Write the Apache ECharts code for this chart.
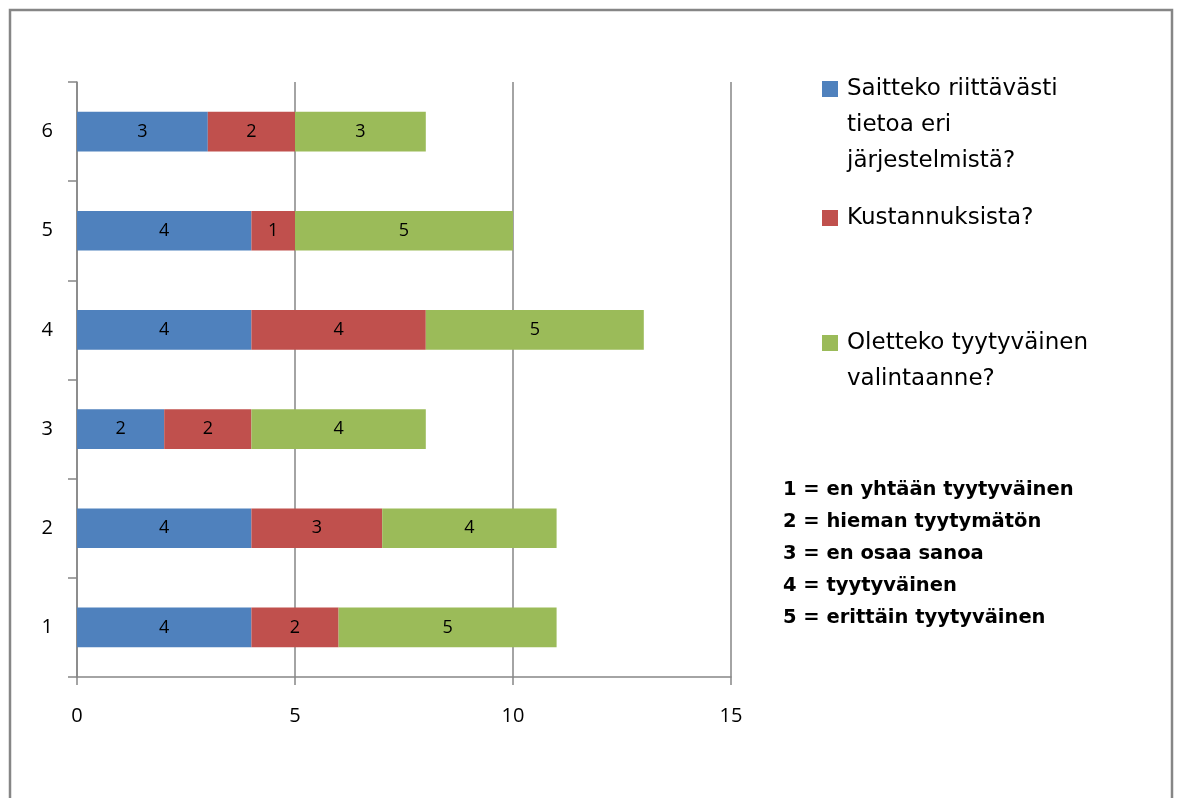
<!DOCTYPE html>
<html><head><meta charset="utf-8">
<script src="https://cdn.jsdelivr.net/npm/echarts@6/dist/echarts.min.js"></script>
<style>html,body{margin:0;padding:0;background:#fff}#c{width:1179px;height:798px}</style>
</head><body><div id="c"></div>
<script>
const categories = ['1','2','3','4','5','6'];
const seriesNames = ['Saitteko riittävästi\ntietoa eri\njärjestelmistä?', 'Kustannuksista?', 'Oletteko tyytyväinen\nvalintaanne?'];
const infoValues = [4, 4, 2, 4, 4, 3];
const costValues = [2, 3, 2, 4, 1, 2];
const satisfiedValues = [5, 4, 4, 5, 5, 3];
const xTicks = [0, 5, 10, 15];
const noteLines = ['1 = en yhtään tyytyväinen','2 = hieman tyytymätön','3 = en osaa sanoa','4 = tyytyväinen','5 = erittäin tyytyväinen'];

const colors = ['#4F81BD', '#C0504D', '#9BBB59'];
const FONT = 'Open Sans';
const LFONT = 'DejaVu Sans';
const values = [infoValues, costValues, satisfiedValues];

const chart = echarts.init(document.getElementById('c'), null, {renderer:'canvas'});
const legendTops = [-6, 195, 284];
// pad with leading blank lines so the colour square sits beside the first line
function padName(name) {
  const n = name.split('\n').length;
  return '\n'.repeat(n - 1) + name;
}
chart.setOption({
  animation: false,
  color: colors,
  grid: {left: 77, right: 448, top: 82, bottom: 121, containLabel: false},
  xAxis: {
    type: 'value', min: xTicks[0], max: xTicks[xTicks.length-1], interval: 5,
    axisLine: {show: true, lineStyle: {color: '#868686', width: 1.5}},
    axisTick: {show: true, length: 8, lineStyle: {color: '#868686', width: 1.5}},
    axisLabel: {margin: 29, color: '#000', fontFamily: FONT, fontSize: 20},
    splitLine: {show: true, lineStyle: {color: '#868686', width: 1.5}}
  },
  yAxis: {
    type: 'category', data: categories,
    axisLine: {show: true, lineStyle: {color: '#868686', width: 1.5}},
    axisTick: {show: true, length: 9, lineStyle: {color: '#868686', width: 1.5}},
    axisLabel: {margin: 24, color: '#000', fontFamily: FONT, fontSize: 20}
  },
  legend: seriesNames.map((n, i) => ({
    data: [n], orient: 'vertical', left: 817, top: legendTops[i],
    itemWidth: 16, itemHeight: 16, icon: 'rect', selectedMode: false,
    formatter: padName,
    textStyle: {fontFamily: LFONT, fontSize: 23, color: '#000', lineHeight: 36, padding: [0,0,0,4]}
  })),
  series: seriesNames.map((n, i) => ({
    name: n, type: 'bar', stack: 'total', data: values[i], barWidth: '40%',
    label: {show: true, position: 'inside', color: '#000', fontFamily: FONT, fontSize: 18},
    itemStyle: {color: colors[i]}
  })),
  graphic: [
    {type: 'rect', shape: {x: 10, y: 10, width: 1162, height: 900}, style: {fill: 'none', stroke: '#868686', lineWidth: 2.5}, silent: true},
    {type: 'text', left: 783, top: 474, style: {text: noteLines.join('\n'), fontFamily: LFONT, fontSize: 19.5, fontWeight: 'bold', lineHeight: 32, fill: '#000'}}
  ]
});
</script></body></html>
